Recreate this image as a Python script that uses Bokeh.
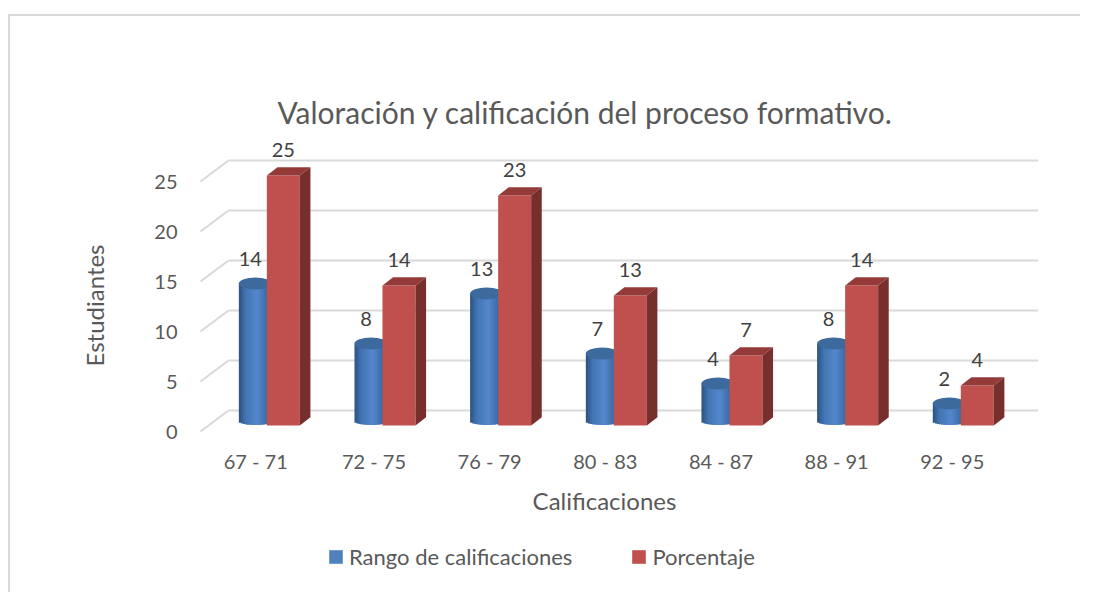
import math
from bokeh.embed import file_html
from bokeh.resources import INLINE
from bokeh.plotting import figure
from bokeh.models import Range1d, FixedTicker, Legend, LegendItem, Title, InlineStyleSheet
from bokeh.core.properties import value

categories = ["67  - 71", "72 - 75", "76 - 79", "80 - 83", "84 - 87", "88 - 91", "92 - 95"]
rango = [14, 8, 13, 7, 4, 8, 2]
porcentaje = [25, 14, 23, 13, 7, 14, 4]
y_ticks = [0, 5, 10, 15, 20, 25]
title_text = "Valoración y calificación del proceso formativo."
FONT = "Lato"
BLUE, RED = "#4f81bd", "#c0504d"
GRID = "#d9d9d9"

PX_X = 115.66  # pixels per category
PX_Y = 10.0    # pixels per unit
def dx(px): return px / PX_X
def dy(px): return px / PX_Y

# outer chart frame (top and left edges), drawn by the page around the plot
frame_css = InlineStyleSheet(css=""":host{position:relative}
:host::after{content:"";position:absolute;left:8px;top:14px;right:0;bottom:0;
border-top:2px solid #d9d9d9;border-left:2px solid #d9d9d9;pointer-events:none}""")

p = figure(width=1080, height=592, output_backend="svg", toolbar_location=None,
           x_range=Range1d((168 - 200) / PX_X, (1040 - 200) / PX_X),
           y_range=Range1d((431 - 575) / PX_Y, (431 - 35) / PX_Y),
           min_border_left=168, min_border_right=40, min_border_top=35, min_border_bottom=17,
           stylesheets=[frame_css])
p.outline_line_color = None
p.grid.visible = False
p.background_fill_color = None
p.border_fill_color = None

# x axis
xa = p.xaxis[0]
xa.ticker = FixedTicker(ticks=[i + 0.5 for i in range(len(categories))])
xa.major_label_overrides = {i + 0.5: c for i, c in enumerate(categories)}
xa.axis_line_color = None
xa.major_tick_line_color = None
xa.minor_tick_line_color = None
xa.major_label_standoff = -133
xa.major_label_text_font = FONT
xa.major_label_text_font_size = "20px"
xa.major_label_text_color = "#595959"
xa.axis_label = "Calificaciones"
xa.axis_label_text_font = FONT
xa.axis_label_text_font_style = "normal"
xa.axis_label_text_font_size = "24px"
xa.axis_label_text_color = "#595959"
xa.axis_label_standoff = 10

# y axis
ya = p.yaxis[0]
ya.ticker = FixedTicker(ticks=y_ticks)
ya.axis_line_color = None
ya.major_tick_line_color = None
ya.minor_tick_line_color = None
ya.major_label_standoff = -15
ya.major_label_text_font = FONT
ya.major_label_text_font_size = "20px"
ya.major_label_text_color = "#595959"
ya.axis_label = "Estudiantes"
ya.axis_label_text_font = FONT
ya.axis_label_text_font_style = "normal"
ya.axis_label_text_font_size = "24px"
ya.axis_label_text_color = "#595959"
ya.axis_label_standoff = 42

# title
p.title = Title(text=title_text, align="left", offset=109, standoff=-188,
                text_font=FONT, text_font_size="30px",
                text_font_style="normal", text_color="#595959")

# back wall gridlines and slanted floor lines
n = len(categories)
for t in y_ticks:
    p.line([dx(28), n + dx(28)], [t + dy(21), t + dy(21)], line_color=GRID, line_width=2)
    p.line([0, dx(28)], [t, t + dy(21)], line_color=GRID, line_width=2)

# cylinders
def mix(a, b, t):
    return "#%02x%02x%02x" % tuple(round(a[k] + (b[k] - a[k]) * t) for k in range(3))

STOPS = [(0.0, (44, 80, 126)), (0.2, (66, 116, 178)), (0.55, (84, 136, 205)), (1.0, (50, 90, 145))]
def cyl_color(u):
    for (u0, c0), (u1, c1) in zip(STOPS, STOPS[1:]):
        if u <= u1:
            return mix(c0, c1, (u - u0) / (u1 - u0))
    return "#%02x%02x%02x" % STOPS[-1][1]

CYL_W = 33
CYL_L = -19.5
centers = [i + 0.5 for i in range(n)]
blue_bar = p.vbar(x=[c + dx(CYL_L + CYL_W / 2) for c in centers], top=[v + dy(8) for v in rango],
                  bottom=[dy(10)] * n, width=dx(CYL_W - 1), fill_color=BLUE, line_color=None)

STRIPS = 16
for c, v in zip(centers, rango):
    lefts, rights, tops, bottoms, colors = [], [], [], [], []
    for s in range(STRIPS):
        u = (s + 0.5) / STRIPS
        curve = math.sqrt(max(0.0, 1 - (2 * u - 1) ** 2))
        lefts.append(c + dx(CYL_L + CYL_W * s / STRIPS))
        rights.append(c + dx(CYL_L + CYL_W * (s + 1) / STRIPS + 1.0))
        tops.append(v + dy(8))
        bottoms.append(dy(10) - dy(3.5) * curve)
        colors.append(cyl_color(u))
    p.quad(left=lefts, right=rights, top=tops, bottom=bottoms, fill_color=colors, line_color=None)
p.ellipse(x=[c + dx(CYL_L + CYL_W / 2) for c in centers], y=[v + dy(8) for v in rango],
          width=dx(CYL_W), height=dy(12), fill_color="#3d6a9c", line_color=None)

# red boxes
R_L, R_W, D_X, D_Y, R_B = 8.5, 33, 10.6, 8.3, 6
red_front = p.vbar(x=[c + dx(R_L + R_W / 2) for c in centers], top=[v + dy(R_B) for v in porcentaje],
                   bottom=[dy(R_B)] * n, width=dx(R_W), fill_color=RED, line_color=None)
p.patches(
    xs=[[c + dx(R_L), c + dx(R_L + R_W), c + dx(R_L + R_W + D_X), c + dx(R_L + D_X)] for c in centers],
    ys=[[v + dy(R_B), v + dy(R_B), v + dy(R_B + D_Y), v + dy(R_B + D_Y)] for v in porcentaje],
    fill_color="#943b39", line_color=None)
p.patches(
    xs=[[c + dx(R_L + R_W), c + dx(R_L + R_W + D_X), c + dx(R_L + R_W + D_X), c + dx(R_L + R_W)] for c in centers],
    ys=[[dy(R_B), dy(R_B + D_Y), v + dy(R_B + D_Y), v + dy(R_B)] for v in porcentaje],
    fill_color="#772f2d", line_color=None)

# value labels
p.text(x=[c + dx(CYL_L + CYL_W / 2 - 5) for c in centers], y=[v + dy(33) for v in rango],
       text=[str(v) for v in rango], text_align="center", text_baseline="middle",
       text_font=value(FONT), text_font_size="20px", text_color="#404040")
p.text(x=[c + dx(R_L + R_W / 2) for c in centers], y=[v + dy(R_B + 26) for v in porcentaje],
       text=[str(v) for v in porcentaje], text_align="center", text_baseline="middle",
       text_font=value(FONT), text_font_size="20px", text_color="#404040")

# legend
legend = Legend(items=[LegendItem(label="Rango de calificaciones", renderers=[blue_bar]),
                       LegendItem(label="Porcentaje", renderers=[red_front])],
                orientation="horizontal", location=(159, 5), glyph_width=17, glyph_height=17,
                label_standoff=5, spacing=58, padding=0, margin=0, border_line_color=None,
                background_fill_alpha=0, label_text_font=FONT, label_text_font_size="22px",
                label_text_color="#595959")
p.add_layout(legend, "center")

open("out.html", "w").write(file_html(p, INLINE))
